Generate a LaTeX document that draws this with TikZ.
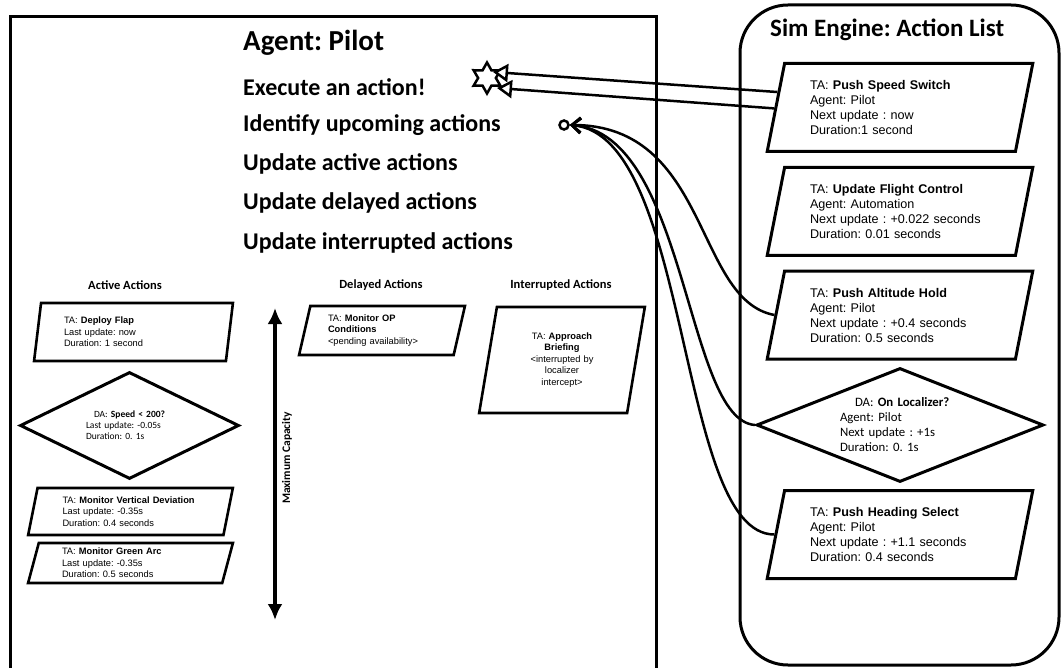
\documentclass[tikz,border=0pt]{standalone}
\usepackage{fontspec}
\setmainfont{Carlito}
\newfontfamily\arial{Liberation Sans}
\usetikzlibrary{shapes.geometric,arrows.meta,calc}
\frenchspacing

\tikzset{
  frame/.style={line width=3pt},
  heading/.style={font=\bfseries\fontsize{24}{28}\selectfont, anchor=west, inner sep=0pt},
  colhead/.style={font=\bfseries\fontsize{12.5}{15}\selectfont, inner sep=0pt},
  taskbox/.style={trapezium, trapezium left angle=76, trapezium right angle=104,
    trapezium stretches=true, draw, line width=3pt, inner sep=0pt,
    minimum width=266pt, minimum height=88pt, text width=180pt, align=left,
    font=\arial\fontsize{12.6}{15}\selectfont},
  smalltask/.style={trapezium, trapezium stretches=true, draw, line width=2.6pt,
    inner sep=0pt, align=left, font=\arial\fontsize{9.3}{11.5}\selectfont},
  decision/.style={diamond, draw, line width=3pt, inner sep=0pt, align=left},
  pull/.style={line width=2.5pt, -{Straight Barb[length=9pt,width=15pt]}},
  fire/.style={line width=2.5pt, -{Triangle[open,length=15pt,width=18pt,fill=white]}},
  capacity/.style={line width=4pt, {Latex[length=16pt,width=15pt]}-{Latex[length=16pt,width=15pt]}},
}

\begin{document}
\begin{tikzpicture}[x=1pt, y=-1pt]
  \useasboundingbox (0,0) rectangle (1062,668);

  % agent side
  \draw[frame] (10,668) -- (10,17) -- (656,17) -- (656,668);
  \node[heading, font=\bfseries\fontsize{29}{33}\selectfont] (agent) at (243,43) {Agent: Pilot};
  \node[heading] (exec) at (243,87) {Execute an action!};
  \node[heading] (ident) at (243,125) {Identify upcoming actions};
  \node[heading] (upact) at (243,164) {Update active actions};
  \node[heading] (updel) at (243,203) {Update delayed actions};
  \node[heading] (upint) at (243,243) {Update interrupted actions};

  \node[star, star points=6, star point ratio=1.75, draw, line width=2.5pt,
        minimum size=31pt, inner sep=0pt] (execstar) at (487,78) {};
  \node[circle, draw, line width=2.5pt, minimum size=9pt, inner sep=0pt] (hub) at (564,125) {};

  % action queues
  \node[colhead] (acthead) at (125,285) {Active Actions};
  \node[colhead] (delhead) at (381,285) {Delayed Actions};
  \node[colhead] (inthead) at (561,285) {Interrupted Actions};

  \node[smalltask, trapezium left angle=80, trapezium right angle=100,
        minimum width=199pt, minimum height=58pt, text width=139pt] (flap) at (133.5,332)
    {TA: \textbf{Deploy Flap}\\Last update: now\\Duration: 1 second};
  \node[decision, shape aspect=2, minimum width=219pt, minimum height=107pt, text width=87pt,
        font=\fontsize{9.5}{11}\selectfont] (speed) at (129.5,425.5)
    {\hspace*{8pt}DA: \textbf{Speed < 200?}\\Last update: -0.05s\\Duration: 0. 1s};
  \node[smalltask, trapezium left angle=77, trapezium right angle=103,
        minimum width=205pt, minimum height=47pt, text width=136pt] (vdev) at (130.5,511.5)
    {TA: \textbf{Monitor Vertical Deviation}\\Last update: -0.35s\\Duration: 0.4 seconds};
  \node[smalltask, trapezium left angle=75, trapezium right angle=105,
        minimum width=205pt, minimum height=40pt, text width=137pt] (garc) at (130.5,563)
    {TA: \textbf{Monitor Green Arc}\\Last update: -0.35s\\Duration: 0.5 seconds};
  \node[smalltask, trapezium left angle=75, trapezium right angle=105,
        minimum width=166pt, minimum height=49pt, text width=108pt] (opcond) at (382,330.5)
    {TA: \textbf{Monitor OP}\\\textbf{Conditions}\\<pending availability>};
  \node[smalltask, trapezium left angle=76, trapezium right angle=104, align=center,
        minimum width=166pt, minimum height=106pt, text width=100pt] (brief) at (562,360)
    {TA: \textbf{Approach}\\\textbf{Briefing}\\<interrupted by\\localizer\\intercept>};

  \coordinate (captop) at (275,308);
  \coordinate (capbot) at (275,620);
  \draw[capacity] (captop) -- (capbot);
  \node[rotate=90, font=\bfseries\fontsize{11.5}{14}\selectfont] (maxcap) at (287,458) {Maximum Capacity};

  % sim engine side
  \draw[frame, rounded corners=48pt] (740,5) rectangle (1059,665);
  \node[heading, font=\bfseries\fontsize{25}{29}\selectfont] (simtitle) at (770,30) {Sim Engine: Action List};

  \node[taskbox] (pss) at (900,107.5)
    {TA: \textbf{Push Speed Switch}\\Agent: Pilot\\Next update : now\\Duration:1 second};
  \node[taskbox] (ufc) at (900,211.5)
    {TA: \textbf{Update Flight Control}\\Agent: Automation\\Next update : +0.022 seconds\\Duration: 0.01 seconds};
  \node[taskbox] (pah) at (900,315)
    {TA: \textbf{Push Altitude Hold}\\Agent: Pilot\\Next update : +0.4 seconds\\Duration: 0.5 seconds};
  \node[decision, shape aspect=2.5, minimum width=287pt, minimum height=114pt, text width=120pt,
        font=\fontsize{12.8}{15}\selectfont] (pol) at (900,425)
    {\hspace*{15pt}DA: \textbf{On Localizer?}\\Agent: Pilot\\Next update : +1s\\Duration: 0. 1s};
  \node[taskbox] (phs) at (900,534.5)
    {TA: \textbf{Push Heading Select}\\Agent: Pilot\\Next update : +1.1 seconds\\Duration: 0.4 seconds};

  % connectors
  \draw[fire] ($(pss.bottom left corner)!0.67!(pss.top left corner)$) -- ($(execstar.center)+(6,-6)$);
  \draw[fire] ($(pss.bottom left corner)!0.49!(pss.top left corner)$) -- ($(execstar.center)+(10,10)$);
  \draw[pull] (pah.left side) .. controls +(-80,-15) and +(140,0) .. (hub.east);
  \draw[pull] (pol.west) .. controls +(-70,-5) and +(118,8) .. (hub.east);
  \draw[pull] (phs.left side) .. controls +(-98,0) and +(122,10) .. (hub.east);
\end{tikzpicture}
\end{document}
